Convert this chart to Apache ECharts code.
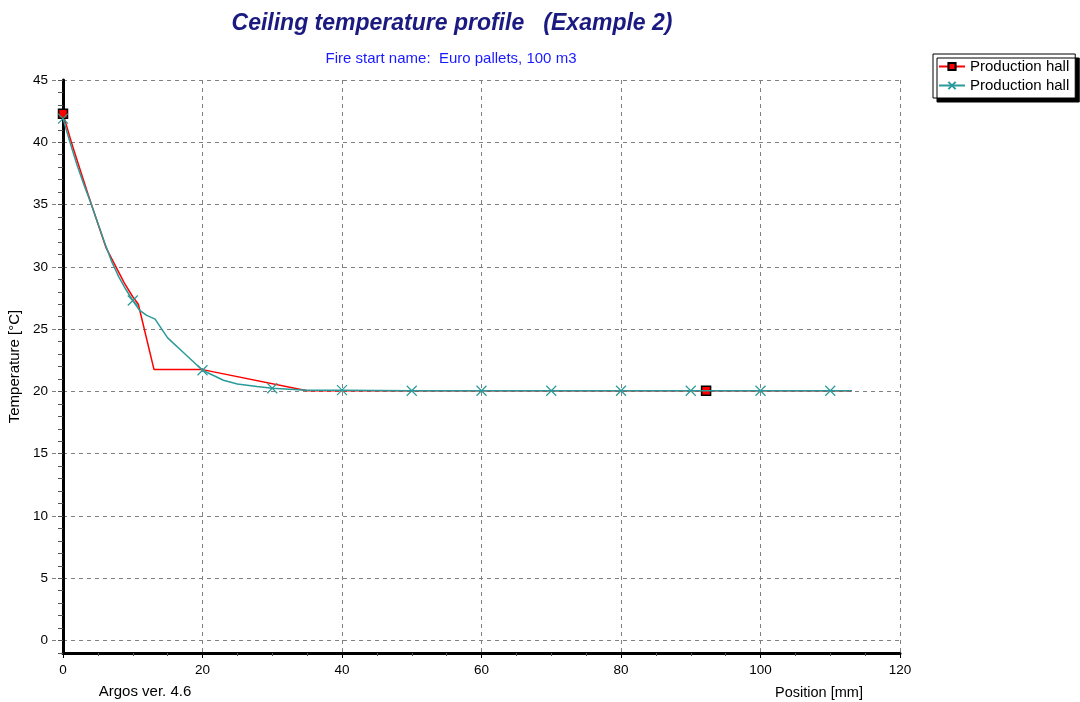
<!DOCTYPE html>
<html>
<head>
<meta charset="utf-8">
<script src="https://cdn.jsdelivr.net/npm/echarts@6/dist/echarts.min.js"></script>
<style>
html,body{margin:0;padding:0;background:#fff;}
#chart{width:1080px;height:702px;}
</style>
</head>
<body>
<div id="chart"></div>
<script>
// ---- data ----
var titleText = 'Ceiling temperature profile   (Example 2)';
var subtitleText = 'Fire start name:  Euro pallets, 100 m3';
var seriesNames = ['Production hall', 'Production hall '];
var xTicks = [0, 20, 40, 60, 80, 100, 120];
var yTicks = [0, 5, 10, 15, 20, 25, 30, 35, 40, 45];

var redX = [0, 1.2, 2.4, 3.6, 4.8, 6.2, 7.5, 8.8, 10.0, 10.8, 13.05, 20, 35, 92.2, 113.1];
var redY = [42.3, 40.0, 37.9, 35.8, 33.8, 31.5, 30.1, 28.7, 27.6, 27.0, 21.75, 21.75, 20.05, 20.05, 20.05];
var redMarkerX = [0, 92.2];

var tealX = [0, 1, 2, 3, 4, 5, 6, 7, 8, 9, 10, 11, 12, 13.2, 14.4, 15, 17.3, 20, 23, 25, 27.8, 30, 35, 40, 50, 60, 70, 80, 90, 100, 110, 113.1];
var tealY = [41.9, 40.0, 38.2, 36.6, 35.1, 33.5, 31.9, 30.4, 29.2, 28.2, 27.3, 26.5, 26.1, 25.8, 24.8, 24.3, 23.1, 21.7, 20.9, 20.6, 20.4, 20.25, 20.1, 20.1, 20.05, 20.05, 20.05, 20.05, 20.05, 20.05, 20.05, 20.05];
var tealMarkerX = [0, 10, 20, 30, 40, 50, 60, 70, 80, 90, 100, 110];

// ---- build ----
function build(xs, ys, markers) {
  return xs.map(function (x, i) {
    var item = { value: [x, ys[i]] };
    if (markers.indexOf(x) < 0) item.symbol = 'none';
    return item;
  });
}
var FONT = '"Liberation Sans", Arial, sans-serif';
var RED = '#ff0000';
var TEAL = '#2a9a9a';

var chart = echarts.init(document.getElementById('chart'), null, { renderer: 'canvas' });
chart.setOption({
  animation: false,
  backgroundColor: '#ffffff',
  textStyle: { fontFamily: FONT },
  grid: { left: 63, right: 180, top: 80, bottom: 49, containLabel: false, outerBoundsMode: 'none' },
  legend: {
    orient: 'vertical',
    left: 933, top: 54,
    padding: [5, 6, 5, 5],
    itemWidth: 26, itemHeight: 9, itemGap: 4, itemTextGap: 7,
    backgroundColor: '#ffffff',
    borderColor: '#000', borderWidth: 1,
    shadowColor: '#000', shadowBlur: 0, shadowOffsetX: 4, shadowOffsetY: 4,
    data: seriesNames,
    formatter: function (n) { return n.trim(); },
    textStyle: { fontFamily: FONT, fontSize: 15, color: '#000', lineHeight: 15 }
  },
  xAxis: {
    type: 'value', min: xTicks[0], max: xTicks[xTicks.length - 1], interval: 20,
    axisLine: { show: true, onZero: false, lineStyle: { color: '#000', width: 3 } },
    axisTick: { show: true, length: 5, lineStyle: { color: '#000', width: 1 } },
    minorTick: { show: true, splitNumber: 4, length: 3, lineStyle: { color: '#555', width: 1 } },
    axisLabel: { color: '#000', fontSize: 13.5, margin: 10, fontFamily: FONT },
    splitLine: { show: true, lineStyle: { color: '#808080', width: 1, type: [4, 4] } }
  },
  yAxis: [
    {
      type: 'value', min: -1, max: 45, interval: 1,
      name: 'Temperature [°C]', nameLocation: 'middle', nameGap: 36, nameRotate: 90,
      nameTextStyle: { color: '#000', fontSize: 15, fontFamily: FONT },
      axisLine: { show: true, onZero: false, lineStyle: { color: '#000', width: 3 } },
      axisTick: { show: true, length: 12, customValues: yTicks, lineStyle: { color: '#808080', width: 1, type: [4, 3] } },
      minorTick: { show: false },
      axisLabel: { color: '#000', fontSize: 13.5, margin: 15, customValues: yTicks, fontFamily: FONT },
      splitLine: { show: true, lineStyle: { color: '#808080', width: 1, type: [4, 4] } }
    },
    {
      type: 'value', min: -1, max: 45, interval: 1, position: 'left', offset: 0,
      axisLine: { show: false },
      axisTick: { show: true, length: 5, lineStyle: { color: '#555', width: 1 } },
      axisLabel: { show: false },
      splitLine: { show: false }
    }
  ],
  graphic: [
    { type: 'text', x: 452, y: 24, style: { text: titleText, font: 'italic bold 23px ' + FONT, fill: '#1a1a80', textAlign: 'center', textVerticalAlign: 'middle' } },
    { type: 'text', x: 451, y: 59, style: { text: subtitleText, font: '15px ' + FONT, fill: '#1a1aff', textAlign: 'center', textVerticalAlign: 'middle' } },
    { type: 'text', x: 145, y: 692, style: { text: 'Argos ver. 4.6', font: '15px ' + FONT, fill: '#000', textAlign: 'center', textVerticalAlign: 'middle' } },
    { type: 'text', x: 819, y: 693, style: { text: 'Position [mm]', font: '14.5px ' + FONT, fill: '#000', textAlign: 'center', textVerticalAlign: 'middle' } }
  ],
  series: [
    {
      name: seriesNames[0], type: 'line', yAxisIndex: 0,
      data: build(redX, redY, redMarkerX),
      symbol: 'rect', symbolSize: 9, showSymbol: true,
      lineStyle: { color: RED, width: 1.5 },
      itemStyle: { color: RED, borderColor: '#000', borderWidth: 1.5 },
      emphasis: { disabled: true }, z: 2
    },
    {
      name: seriesNames[1], type: 'line', yAxisIndex: 0,
      data: build(tealX, tealY, tealMarkerX),
      symbol: 'path://M0,0L10,10M10,0L0,10', symbolSize: 10, showSymbol: true,
      lineStyle: { color: TEAL, width: 1.5 },
      itemStyle: { color: TEAL, borderColor: TEAL, borderWidth: 1.2 },
      emphasis: { disabled: true }, z: 3
    }
  ]
});
</script>
</body>
</html>
